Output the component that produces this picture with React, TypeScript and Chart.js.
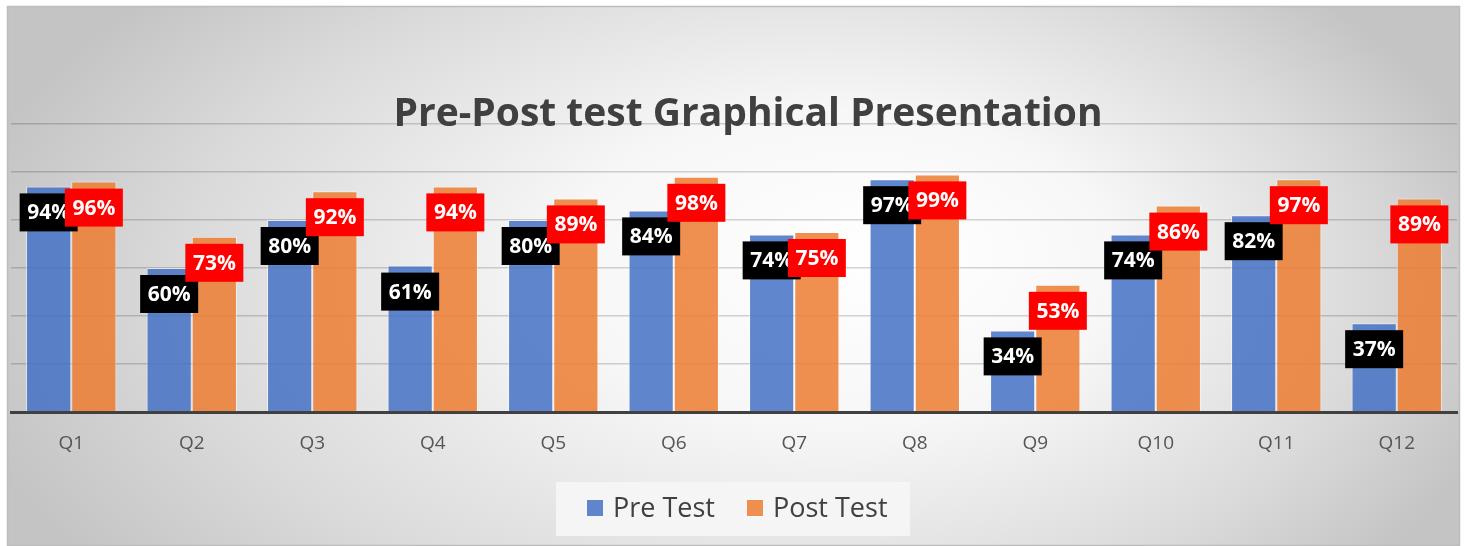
import React, { useEffect, useRef } from "react";
import { Chart, registerables } from "chart.js";

Chart.register(...registerables);

const categories = ["Q1", "Q2", "Q3", "Q4", "Q5", "Q6", "Q7", "Q8", "Q9", "Q10", "Q11", "Q12"];
const preTest = [94, 60, 80, 61, 80, 84, 74, 97, 34, 74, 82, 37];
const postTest = [96, 73, 92, 94, 89, 98, 75, 99, 53, 86, 97, 89];
const seriesNames = ["Pre Test", "Post Test"];
const chartTitle = "Pre-Post test Graphical Presentation";
const yMax = 120;
const yStep = 20;

const FONT = '"Open Sans", "DejaVu Sans", sans-serif';
const PRE_COLOR = "rgba(68,114,196,0.85)";
const POST_COLOR = "rgba(237,125,49,0.85)";
const LABEL_BG = ["#000000", "#ff0000"];

const bgPlugin = {
  id: "bg",
  beforeDraw(chart: any) {
    const ctx = chart.ctx;
    const W = chart.width;
    const H = chart.height;
    ctx.save();
    ctx.fillStyle = "#ffffff";
    ctx.fillRect(0, 0, W, H);
    const x0 = 7, y0 = 6, x1 = 1459, y1 = 545;
    const cx = 733, cy = 300, rx = 790, ry = 450;
    ctx.beginPath();
    ctx.rect(x0, y0, x1 - x0, y1 - y0);
    ctx.clip();
    ctx.translate(cx, cy);
    ctx.scale(1, ry / rx);
    const fx = 900 - cx, fy = (250 - cy) * (rx / ry);
    const g = ctx.createRadialGradient(fx, fy, 0, 0, 0, rx);
    g.addColorStop(0, "#ffffff");
    g.addColorStop(0.35, "#f7f7f7");
    g.addColorStop(0.75, "#dadada");
    g.addColorStop(1, "#c4c4c4");
    ctx.fillStyle = g;
    ctx.fillRect(-cx - 10, (-cy - 10) * (rx / ry), W + 20, (H + 20) * (rx / ry));
    ctx.restore();
    ctx.save();
    ctx.strokeStyle = "#bdbdbd";
    ctx.lineWidth = 1.5;
    ctx.strokeRect(x0 + 0.5, y0 + 0.5, x1 - x0, y1 - y0);
    ctx.restore();
  },
};

const labelPlugin = {
  id: "boxLabels",
  afterDatasetsDraw(chart: any) {
    const ctx = chart.ctx;
    ctx.save();
    ctx.font = `bold 21px ${FONT}`;
    ctx.textAlign = "center";
    ctx.textBaseline = "middle";
    chart.data.datasets.forEach((ds: any, di: number) => {
      const meta = chart.getDatasetMeta(di);
      meta.data.forEach((el: any, i: number) => {
        const v = ds.data[i];
        const cx = el.x;
        const cy = el.y + 26;
        const w = 58, h = 38;
        ctx.fillStyle = LABEL_BG[di];
        ctx.fillRect(cx - w / 2, cy - h / 2, w, h);
        ctx.fillStyle = "#ffffff";
        ctx.fillText(`${v}%`, cx, cy + 1);
      });
    });
    ctx.restore();
  },
};

const titlePlugin = {
  id: "customTitle",
  afterDraw(chart: any) {
    const ctx = chart.ctx;
    ctx.save();
    ctx.font = `bold 39px ${FONT}`;
    ctx.fillStyle = "#404040";
    ctx.textAlign = "center";
    ctx.textBaseline = "alphabetic";
    ctx.fillText(chartTitle, 748, 126);
    ctx.restore();
  },
};

const legendPlugin = {
  id: "customLegend",
  afterDraw(chart: any) {
    const ctx = chart.ctx;
    ctx.save();
    ctx.fillStyle = "rgba(246,246,246,0.95)";
    ctx.fillRect(556, 482, 354, 54);
    ctx.font = `27px ${FONT}`;
    ctx.textBaseline = "alphabetic";
    ctx.textAlign = "left";
    const items = [
      { sx: 587, tx: 613, color: PRE_COLOR, text: chart.data.datasets[0].label },
      { sx: 747, tx: 773, color: POST_COLOR, text: chart.data.datasets[1].label },
    ];
    items.forEach((it) => {
      ctx.fillStyle = it.color;
      ctx.fillRect(it.sx, 500, 16, 16);
      ctx.fillStyle = "#404040";
      ctx.fillText(it.text, it.tx, 517);
    });
    ctx.restore();
  },
};

export default function App() {
  const ref = useRef<HTMLCanvasElement>(null);
  useEffect(() => {
    const chart = new Chart(ref.current as HTMLCanvasElement, {
      type: "bar",
      data: {
        labels: categories,
        datasets: [
          {
            label: seriesNames[0],
            data: preTest,
            backgroundColor: PRE_COLOR,
            borderColor: "rgba(255,255,255,0.5)",
            borderWidth: 1,
          },
          {
            label: seriesNames[1],
            data: postTest,
            backgroundColor: POST_COLOR,
            borderColor: "rgba(255,255,255,0.5)",
            borderWidth: 1,
          },
        ],
      },
      options: {
        responsive: false,
        animation: false,
        layout: { padding: { left: 11, right: 9, top: 124, bottom: 0 } },
        datasets: { bar: { categoryPercentage: 0.75, barPercentage: 1 } } as any,
        plugins: {
          legend: { display: false },
          title: { display: false },
          tooltip: { enabled: false },
        },
        scales: {
          x: {
            grid: { display: false, drawTicks: false },
            border: { display: true, color: "#404040", width: 3 },
            ticks: { font: { family: FONT, size: 19 }, color: "#555555", padding: 20 },
            afterFit: (s: any) => {
              s.height = 134;
            },
          },
          y: {
            min: 0,
            max: yMax,
            ticks: { display: false, stepSize: yStep },
            grid: { color: "rgba(0,0,0,0.17)", lineWidth: 1.5, drawTicks: false },
            border: { display: false },
          },
        },
      },
      plugins: [bgPlugin, labelPlugin, titlePlugin, legendPlugin],
    });
    return () => chart.destroy();
  }, []);
  return (
    <div style={{ position: "fixed", left: 0, top: 0, width: 1466, height: 546 }}>
      <canvas ref={ref} width={1466} height={546} style={{ display: "block" }} />
    </div>
  );
}
